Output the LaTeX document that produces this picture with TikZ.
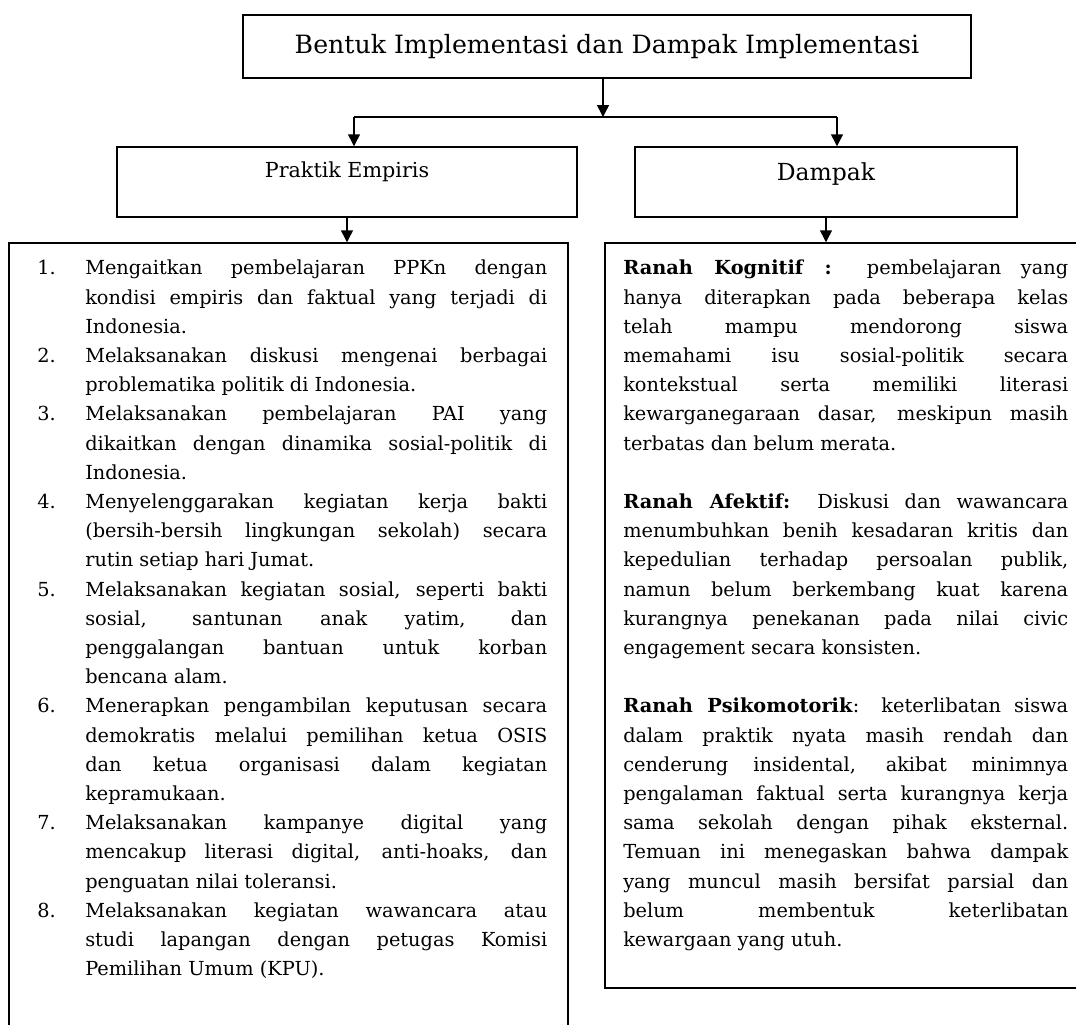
\documentclass[tikz,border=0pt]{standalone}
\usepackage{fontspec}
\setmainfont{DejaVu Serif}
\usetikzlibrary{arrows.meta}
\setlength{\parindent}{0pt}
\newcommand{\tightbreaks}{\hyphenpenalty=10000\relax\exhyphenpenalty=10000\relax\tolerance=10000\relax}
\newcommand{\pitem}[2]{\hangindent=36pt\hangafter=1\noindent\makebox[36pt][l]{#1.}#2\par}
\begin{document}
\begin{tikzpicture}[x=.75pt, y=-.75pt,
	headbox/.style={draw, line width=1.1pt, inner sep=0pt},
	bigbox/.style={draw, line width=1.1pt, inner sep=0pt},
	bodytext/.style={inner sep=0pt, align=justify, font=\fontsize{14.5}{21.9}\selectfont\tightbreaks},
	arr/.style={line width=1.1pt, -{Triangle[length=9pt,width=9pt]}}]
				\def\px{.75pt}
				\useasboundingbox (0,0) rectangle (1076,1025);
				
				\node[headbox, minimum width=728*\px, minimum height=63*\px, font=\fontsize{18.9}{22}\selectfont] (title) at (607,46.5) {Bentuk Implementasi dan Dampak Implementasi};
				\node[headbox, minimum width=460*\px, minimum height=70*\px, text height=16*\px, text depth=26*\px, font=\fontsize{15.5}{18}\selectfont] (praktik) at (347,182) {Praktik Empiris};
				\node[headbox, minimum width=382*\px, minimum height=70*\px, text height=18*\px, text depth=22*\px, font=\fontsize{17.6}{20}\selectfont] (dampak) at (826,182) {Dampak};
				\node[bigbox, minimum width=559*\px, minimum height=797*\px] (praktiklist) at (288.5,641.5) {};
				\node[bigbox, minimum width=477*\px, minimum height=745*\px] (dampaklist) at (843.5,615.5) {};
				
				\coordinate (split) at (603,117);
				\coordinate (leftfork) at (354,117);
				\coordinate (rightfork) at (837,117);
				\draw[arr] (split |- title.south) -- (split);
				\draw[line width=1.1pt] (leftfork) -- (rightfork);
				\draw[arr] (leftfork) -- (leftfork |- praktik.north);
				\draw[arr] (rightfork) -- (rightfork |- dampak.north);
				\draw[arr] (praktik.south) -- (praktik.south |- praktiklist.north);
				\draw[arr] (dampak.south) -- (dampak.south |- dampaklist.north);
				
				\node[bodytext, text width=510*\px, anchor=north west] (praktikitems) at (37,260) {%
					\pitem{1}{Mengaitkan pembelajaran PPKn dengan\linebreak kondisi empiris dan faktual yang terjadi di\linebreak Indonesia.}
					\pitem{2}{Melaksanakan diskusi mengenai berbagai\linebreak problematika politik di Indonesia.}
					\pitem{3}{Melaksanakan pembelajaran PAI yang\linebreak dikaitkan dengan dinamika sosial-politik di\linebreak Indonesia.}
					\pitem{4}{Menyelenggarakan kegiatan kerja bakti\linebreak (bersih-bersih lingkungan sekolah) secara\linebreak rutin setiap hari Jumat.}
					\pitem{5}{Melaksanakan kegiatan sosial, seperti bakti\linebreak sosial, santunan anak yatim, dan\linebreak penggalangan bantuan untuk korban\linebreak bencana alam.}
					\pitem{6}{Menerapkan pengambilan keputusan secara\linebreak demokratis melalui pemilihan ketua OSIS\linebreak dan ketua organisasi dalam kegiatan\linebreak kepramukaan.}
					\pitem{7}{Melaksanakan kampanye digital yang\linebreak mencakup literasi digital, anti-hoaks, dan\linebreak penguatan nilai toleransi.}
					\pitem{8}{Melaksanakan kegiatan wawancara atau\linebreak studi lapangan dengan petugas Komisi\linebreak Pemilihan Umum (KPU).}};
				\node[bodytext, text width=445*\px, anchor=north west] (dampakitems) at (623,260) {%
					\textbf{Ranah Kognitif :} pembelajaran yang\linebreak hanya diterapkan pada beberapa kelas\linebreak telah mampu mendorong siswa\linebreak memahami isu sosial-politik secara\linebreak kontekstual serta memiliki literasi\linebreak kewarganegaraan dasar, meskipun masih\linebreak terbatas dan belum merata.\par\vspace{21.9pt}
					\textbf{Ranah Afektif:} Diskusi dan wawancara\linebreak menumbuhkan benih kesadaran kritis dan\linebreak kepedulian terhadap persoalan publik,\linebreak namun belum berkembang kuat karena\linebreak kurangnya penekanan pada nilai civic\linebreak engagement secara konsisten.\par\vspace{21.9pt}
					\textbf{Ranah Psikomotorik}: keterlibatan siswa\linebreak dalam praktik nyata masih rendah dan\linebreak cenderung insidental, akibat minimnya\linebreak pengalaman faktual serta kurangnya kerja\linebreak sama sekolah dengan pihak eksternal.\linebreak Temuan ini menegaskan bahwa dampak\linebreak yang muncul masih bersifat parsial dan\linebreak belum membentuk keterlibatan\linebreak kewargaan yang utuh.};
			\end{tikzpicture}
\end{document}
